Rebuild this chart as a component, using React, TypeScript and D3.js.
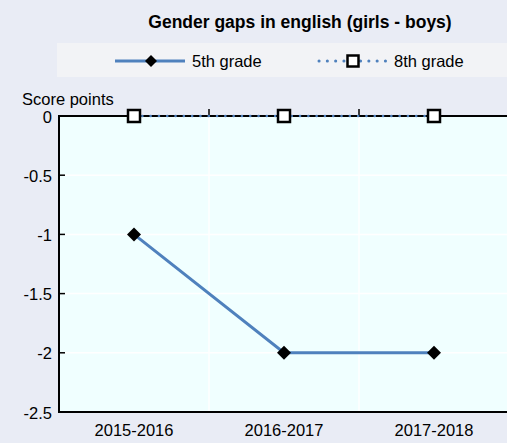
import React from "react";
import * as d3 from "d3";

const categories = ["2015-2016", "2016-2017", "2017-2018"];
const grade5 = [-1, -2, -2];
const grade8 = [0, 0, 0];
const yTicks = [0, -0.5, -1, -1.5, -2, -2.5];
const title = "Gender gaps in english (girls - boys)";
const yLabel = "Score points";

const W = 507, H = 443;
const left = 59, right = 509, top = 116, bottom = 412;
const font = "'Liberation Sans', Arial, sans-serif";
const blue = "#4F81BD";
const fs = 16.5;

export default function App() {
  const x = d3.scaleBand().domain(categories).range([left, right]);
  const y = d3.scaleLinear().domain([-2.5, 0]).range([bottom, top]);
  const cx = (c: string) => (x(c) as number) + x.bandwidth() / 2;
  const line = d3.line<number>().x((_, i) => cx(categories[i])).y((v) => y(v));
  const diamond = (px: number, py: number, r = 7) =>
    `M${px},${py - r}L${px + r},${py}L${px},${py + r}L${px - r},${py}Z`;

  return (
    <svg width={W} height={H} style={{ position: "absolute", left: 0, top: 0, display: "block" }}>
      <rect x={0} y={0} width={W} height={H} fill="#E9ECF5" />
      <text x={300} y={28} textAnchor="middle" fontFamily={font} fontWeight="bold" fontSize={17.5} fill="#000">{title}</text>
      <rect x={57} y={43} width={450} height={34} fill="#F2F3F6" />
      {/* legend */}
      <line x1={115} x2={185} y1={61} y2={61} stroke={blue} strokeWidth={3} />
      <path d={diamond(151, 61, 6)} fill="#000" />
      <text x={192} y={67} fontFamily={font} fontSize={fs} fill="#000">5th grade</text>
      <line x1={319} x2={387} y1={61} y2={61} stroke={blue} strokeWidth={3} strokeDasharray="0.1,8.2" strokeLinecap="round" />
      <rect x={347.5} y={55.5} width={11} height={11} fill="#fff" stroke="#000" strokeWidth={2.5} />
      <text x={394} y={67} fontFamily={font} fontSize={fs} fill="#000">8th grade</text>

      {/* plot area */}
      <rect x={left} y={top} width={right - left} height={bottom - top} fill="#F0FFFF" />
      {yTicks.filter((t) => t !== 0 && t !== -2.5).map((t) => (
        <line key={t} x1={left} x2={right} y1={y(t)} y2={y(t)} stroke="#fff" strokeWidth={1.5} />
      ))}
      {categories.slice(1).map((c) => (
        <line key={c} x1={x(c) as number} x2={x(c) as number} y1={top} y2={bottom} stroke="#fff" strokeWidth={1.5} />
      ))}
      {/* axes */}
      <line x1={left} x2={right} y1={y(0)} y2={y(0)} stroke="#000" strokeWidth={2} />
      <line x1={left} x2={right} y1={bottom} y2={bottom} stroke="#000" strokeWidth={2} />
      <line x1={left} x2={left} y1={top - 1} y2={bottom + 1} stroke="#000" strokeWidth={2} />
      {yTicks.map((t) => (
        <g key={t}>
          <line x1={left} x2={left + 6} y1={y(t)} y2={y(t)} stroke="#000" strokeWidth={1.5} />
          <text x={52} y={y(t) + 6.5} textAnchor="end" fontFamily={font} fontSize={fs} fill="#000">{t}</text>
        </g>
      ))}
      {categories.slice(1).map((c) => (
        <line key={c} x1={x(c) as number} x2={x(c) as number} y1={top - 7} y2={top} stroke="#000" strokeWidth={1.5} />
      ))}
      {categories.map((c) => (
        <text key={c} x={cx(c)} y={bottom + 24} textAnchor="middle" fontFamily={font} fontSize={fs} fill="#000">{c}</text>
      ))}
      <text x={22} y={105} fontFamily={font} fontSize={fs} fill="#000">{yLabel}</text>

      {/* series */}
      <path d={line(grade8) ?? ""} fill="none" stroke={blue} strokeWidth={2.5} strokeDasharray="0.1,8.2" strokeLinecap="round" />
      <path d={line(grade5) ?? ""} fill="none" stroke={blue} strokeWidth={3} />
      {grade5.map((v, i) => (
        <path key={i} d={diamond(cx(categories[i]), y(v), 7)} fill="#000" />
      ))}
      {grade8.map((v, i) => (
        <rect key={i} x={cx(categories[i]) - 6} y={y(v) - 6} width={12} height={12} fill="#fff" stroke="#000" strokeWidth={2.5} />
      ))}
    </svg>
  );
}
